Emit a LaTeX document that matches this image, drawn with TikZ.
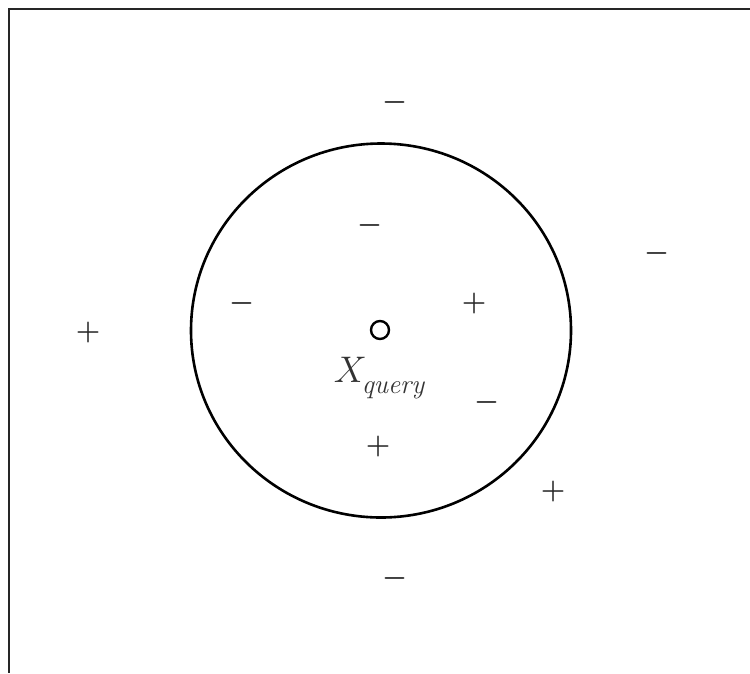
\RequirePackage{fix-cm}
\documentclass[tikz,border=0pt]{standalone}
\begin{document}
\begin{tikzpicture}[x=1pt,y=-1pt,
  sign/.style={inner sep=0pt, font=\fontsize{28}{30}\selectfont\boldmath, text=black!85},
  frameline/.style={line width=2.8pt, black!85},
  ring/.style={line width=2.6pt}]
\useasboundingbox (0,0) rectangle (750,673);
% open frame
\coordinate (tl) at (9,9);
\coordinate (tr) at (750,9);
\coordinate (bl) at (9,673);
\draw[frameline] (tr) -- (tl) -- (bl);
% neighbourhood
\coordinate (c) at (381,330.5);
\draw[ring] (c) ellipse [x radius=190, y radius=187];
\node[draw, circle, line width=2.4pt, minimum size=18pt, inner sep=0pt] (q) at (380,330) {};
\node[inner sep=0pt, anchor=base, text=black!80, font=\fontsize{37}{40}\selectfont] (lbl) at (379,382) {$X$\kern-5pt\raisebox{-11pt}{\fontsize{27}{28}\selectfont\itshape query}};
% signs
\node[sign] (m1) at (395,102) {$-$};
\node[sign] (m2) at (370,225) {$-$};
\node[sign] (m3) at (657,253) {$-$};
\node[sign] (m4) at (242,303) {$-$};
\node[sign] (p1) at (474,303) {$+$};
\node[sign] (p2) at (88,332) {$+$};
\node[sign] (m5) at (487,402) {$-$};
\node[sign] (p3) at (378,446) {$+$};
\node[sign] (p4) at (553,491) {$+$};
\node[sign] (m6) at (395,578) {$-$};
\end{tikzpicture}
\end{document}
